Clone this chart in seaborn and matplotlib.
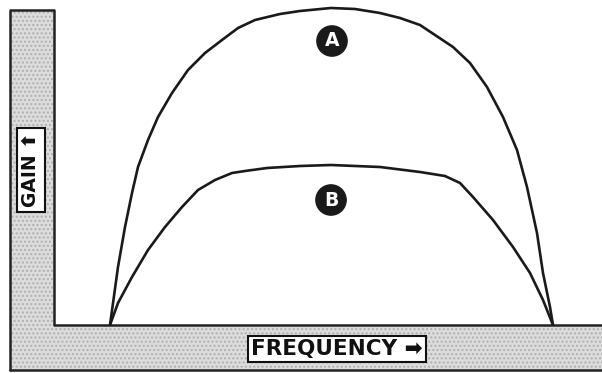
import pandas as pd
import seaborn as sns
import matplotlib.pyplot as plt
from matplotlib.patches import Polygon

# Curve data (frequency / gain in arbitrary units)
freq_a = [110, 118, 125, 132, 138, 148, 158, 172, 188, 205, 222, 238, 255, 280, 300, 331,
          355, 380, 400, 420, 453, 470, 487, 503, 517, 527, 537, 543, 550, 553]
gain_a = [0, 58, 98, 132, 158, 185, 208, 232, 255, 272, 285, 297, 305, 311, 314, 317,
          316, 312, 307, 300, 278, 262, 238, 208, 175, 138, 92, 52, 18, 0]

freq_b = [110, 118, 132, 148, 165, 182, 198, 215, 232, 245, 267, 300, 331,
          380, 420, 445, 460, 473, 493, 513, 530, 543, 553]
gain_b = [0, 22, 48, 75, 98, 118, 135, 145, 152, 154, 157, 159, 160,
          158, 153, 149, 142, 128, 105, 78, 52, 25, 0]

curve_labels = ["A", "B"]
label_freq = [332, 331]
label_gain = [284, 125]

df = pd.concat([
    pd.DataFrame({"Frequency": freq_a, "Gain": gain_a, "curve": "A"}),
    pd.DataFrame({"Frequency": freq_b, "Gain": gain_b, "curve": "B"}),
])

sns.set_style("white")
plt.rcParams['font.family'] = ['DejaVu Sans']

W, H = 602, 373
fig = plt.figure(figsize=(W / 100, H / 100), dpi=100)

# background frame (grey L shaped band) in pixel coords
bg = fig.add_axes([0, 0, 1, 1])
bg.set_xlim(0, W)
bg.set_ylim(H, 0)
bg.axis("off")
band = Polygon([(10, 10), (54, 10), (54, 325), (602, 325), (602, 370), (10, 370)],
               closed=True, facecolor="#dcdcdc", edgecolor="#b0b0b0", hatch="....", linewidth=0)
bg.add_patch(band)
bg.plot([10, 10, 54, 54, 602], [370, 10, 10, 325, 325], color="#222222", lw=1.8)
bg.plot([10, 602], [370, 370], color="#222222", lw=1.8)

bg.text(31, 170, "GAIN \u2b06", rotation=90, ha="center", va="center",
        fontsize=13.5, fontweight="bold", color="#111111",
        bbox=dict(boxstyle="square,pad=0.25", facecolor="white", edgecolor="#111111", lw=1.5))
bg.text(337, 349, "FREQUENCY \u27a1", ha="center", va="center",
        fontsize=15.5, fontweight="bold", color="#111111",
        bbox=dict(boxstyle="square,pad=0.15", facecolor="white", edgecolor="#111111", lw=1.5))

# main plot area
ax = fig.add_axes([54 / W, (H - 325) / H, (W - 54) / W, 325 / H])
ax.patch.set_alpha(0)
sns.lineplot(data=df, x="Frequency", y="Gain", units="curve", estimator=None,
             color="#1a1a1a", linewidth=1.9, sort=False, ax=ax)
ax.set_xlim(54, 602)
ax.set_ylim(0, 325)
ax.axis("off")

for lab, fx, gy in zip(curve_labels, label_freq, label_gain):
    ax.text(fx, gy, lab, ha="center", va="center", fontsize=13.5, fontweight="bold",
            color="white",
            bbox=dict(boxstyle="circle,pad=0.3", facecolor="#1a1a1a", edgecolor="#1a1a1a"))

fig.savefig("out.png", dpi=100)
